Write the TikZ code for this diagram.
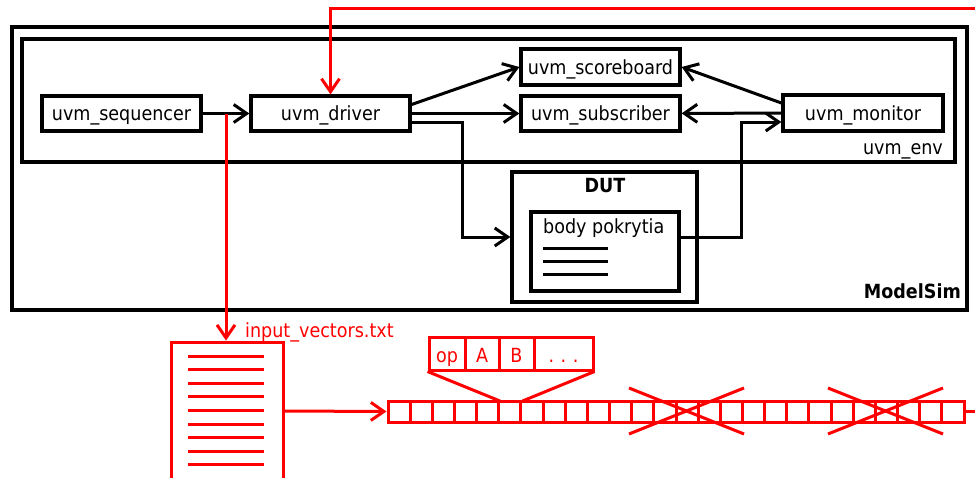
\documentclass[tikz,border=0pt]{standalone}
\usepackage{fontspec}
\setmainfont{DejaVu Sans}[FakeStretch=0.9]
\usetikzlibrary{arrows.meta,calc}
\begin{document}
\begin{tikzpicture}[x=1pt,y=-1pt,
  txt/.style={font=\fontsize{19.5}{22}\selectfont, inner sep=0pt},
  btxt/.style={font=\fontsize{19.5}{22}\selectfont\bfseries, inner sep=0pt},
  box/.style={draw, line width=3.3pt, rectangle, inner sep=0pt, font=\fontsize{19.5}{22}\selectfont, minimum height=35pt, text height=16pt, text depth=2pt},
  frame/.style={draw, rectangle, inner sep=0pt},
  conn/.style={line width=3pt, -{Straight Barb[length=13pt,width=18pt]}},
  rconn/.style={red, line width=3pt, -{Straight Barb[length=13pt,width=18pt]}},
  rline/.style={red, line width=3pt},
  rbox/.style={draw=red, line width=3pt, rectangle, inner sep=0pt},
  rtxt/.style={red, font=\fontsize{19.5}{22}\selectfont, inner sep=0pt}
]
\clip (0,0) rectangle (975,477);
\fill[white] (0,0) rectangle (975,477);

% frames
\node[frame, line width=4.8pt, minimum width=955pt, minimum height=283pt] (ms) at (489.5,168.5) {};
\node[frame, line width=3.3pt, minimum width=933pt, minimum height=123pt] (env) at (488.5,100.5) {};
\node[txt, anchor=base east] (envl) at (943,154) {uvm\_env};
\node[btxt, anchor=base east] (msl) at (961,298) {ModelSim};

% components
\node[box, minimum width=159pt] (seq) at (121.5,113.5) {uvm\_sequencer};
\node[box, minimum width=159pt] (drv) at (330.5,113.5) {uvm\_driver};
\node[box, minimum width=159pt, minimum height=36pt] (sb) at (600.5,67) {uvm\_scoreboard};
\node[box, minimum width=159pt] (sub) at (600.5,113.5) {uvm\_subscriber};
\node[box, minimum width=160pt, minimum height=36pt] (mon) at (863,113) {uvm\_monitor};

% DUT
\node[box, minimum width=185pt, minimum height=130pt] (dut) at (604.5,237) {};
\node[btxt, anchor=base] (dutl) at (605,192) {DUT};
\node[box, minimum width=148pt, minimum height=79pt] (body) at (605,251.5) {};
\node[txt, anchor=base west] (bodyl) at (543,233) {body pokrytia};
\foreach \yy in {248,261,274} \draw[line width=3pt] (543,\yy) -- (608,\yy);

% black connectors
\draw[conn] (seq) -- (drv);
\draw[conn] ([yshift=9pt]drv.east) -- (sb.west);
\draw[conn] (drv) -- (sub);
\draw[conn] ([yshift=-8.5pt]drv.east) -- ++(51,0) |- (dut.west);
\draw[conn] ([yshift=10pt]mon.west) -- (sb.east);
\draw[conn] (mon) -- (sub);
\draw[conn] (body.east |- dut.center) -- ++(61,0) |- ([yshift=-9pt]mon.west);

% red parts
\coordinate (topR) at (975,8);
\draw[rconn] (topR) -| (drv.north);

\node[rbox, minimum width=112pt, minimum height=138pt] (file) at (227,411) {};
\foreach \k in {0,...,8} \draw[rline] (188,{356+13.6*\k}) -- (264,{356+13.6*\k});
\node[rtxt, anchor=base west] (fname) at (245,337) {input\_vectors.txt};

\coordinate (tap) at (226,113.5);
\draw[rconn] (tap) -- (tap |- file.north);

\node[rbox, minimum width=576pt, minimum height=21pt] (arr) at (676,411.5) {};
\foreach \i in {1,...,25} \draw[red, line width=3pt] ({388+\i*22.154},401) -- ({388+\i*22.154},422);
\draw[rconn] (file.east) -- (arr.west);
\coordinate (tail) at (975,411.5);
\draw[rline] (arr.east) -- (tail);

% crosses
\draw[rline] (629,388) -- (744,434);
\draw[rline] (629,434) -- (744,388);
\draw[rline] (828,388) -- (943,434);
\draw[rline] (828,434) -- (943,388);

% field box
\node[rbox, minimum width=164pt, minimum height=33pt] (fld) at (511,353.5) {};
\foreach \xx in {465,499,534} \draw[rline] (\xx,337) -- (\xx,370);
\node[rtxt, anchor=base] (fop) at (447,362) {op};
\node[rtxt, anchor=base] (fa) at (482,362) {A};
\node[rtxt, anchor=base] (fb) at (516.5,362) {B};
\node[rtxt, anchor=base] (fdots) at (563.5,362) {.\,\,.\,\,.};
\draw[rline] (fld.south west) -- (500,401);
\draw[rline] (fld.south east) -- (522.5,401);
\end{tikzpicture}
\end{document}
